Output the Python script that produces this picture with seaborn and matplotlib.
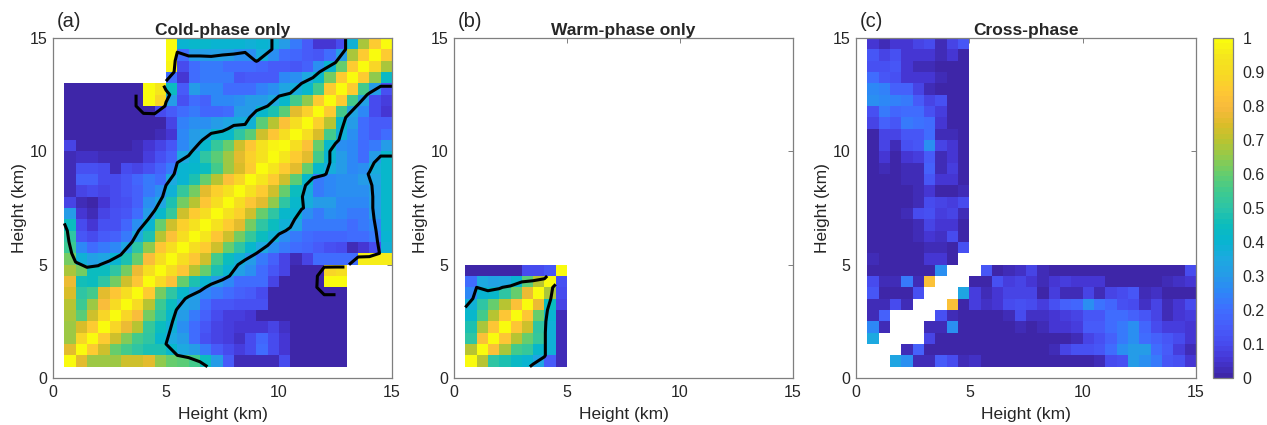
import numpy as np
import seaborn as sns
import matplotlib
matplotlib.use('Agg')
import matplotlib.pyplot as plt
from matplotlib.colors import LinearSegmentedColormap

N = np.nan

# correlation x100, rows from the lowest height up, columns from 0.5 km
cold_rows = [
    [100, 75, 66, 66, 66, 72, 72, 76, 65, 60, 58, 55, 45, 30, 15, 3, 3, 3, 3, 10, 0, 0, 0, 0, 0, N, N, N, N],
    [75, 100, 85, 72, 60, 55, 50, 48, 48, 42, 35, 30, 22, 15, 10, 7, 10, 20, 10, 6, 0, 0, 0, 0, 0, N, N, N, N],
    [66, 88, 100, 85, 72, 64, 55, 50, 42, 35, 30, 20, 12, 8, 7, 4, 10, 18, 10, 5, 0, 0, 0, 0, 0, N, N, N, N],
    [66, 74, 85, 100, 88, 77, 70, 52, 45, 38, 28, 20, 14, 9, 7, 6, 5, 6, 8, 4, 0, 0, 0, 0, 0, N, N, N, N],
    [68, 58, 72, 88, 100, 88, 80, 62, 50, 42, 30, 22, 17, 10, 7, 7, 6, 0, 0, 0, 0, 0, 0, 0, 0, N, N, N, N],
    [70, 54, 66, 80, 90, 100, 90, 70, 54, 45, 34, 30, 20, 14, 14, 12, 12, 12, 0, 0, 0, 0, 0, 0, 0, N, N, N, N],
    [74, 50, 55, 76, 84, 92, 100, 85, 62, 50, 42, 32, 25, 22, 20, 17, 15, 10, 0, 0, 0, 0, 0, 0, 0, N, N, N, N],
    [78, 46, 44, 50, 62, 72, 84, 100, 90, 82, 60, 48, 40, 30, 25, 20, 20, 20, 8, 0, 0, 0, 0, 100, 100, N, N, N, N],
    [68, 62, 45, 45, 50, 62, 78, 92, 100, 92, 84, 70, 60, 48, 40, 32, 28, 20, 14, 8, 1, 0, 0, 88, 92, N, N, N, N],
    [62, 38, 32, 34, 40, 48, 60, 80, 92, 100, 92, 84, 72, 55, 45, 38, 30, 22, 16, 8, 3, 9, 20, 20, 20, 20, 96, 96, 96],
    [54, 25, 20, 22, 25, 33, 50, 65, 84, 92, 100, 92, 85, 72, 60, 50, 42, 35, 28, 22, 20, 18, 15, 12, 10, 3, 6, 10, 38],
    [50, 14, 10, 15, 16, 23, 35, 48, 70, 82, 92, 100, 94, 83, 72, 62, 52, 45, 38, 28, 22, 20, 18, 18, 18, 20, 20, 22, 40],
    [44, 10, 5, 12, 12, 18, 28, 40, 60, 72, 86, 93, 100, 93, 85, 76, 62, 50, 44, 38, 33, 23, 22, 22, 22, 20, 22, 25, 42],
    [30, 5, 2, 8, 12, 13, 20, 30, 42, 52, 72, 85, 92, 100, 93, 87, 72, 60, 50, 42, 40, 27, 23, 27, 25, 22, 22, 30, 42],
    [8, 3, 1, 6, 10, 12, 17, 27, 33, 48, 62, 70, 84, 92, 100, 92, 84, 75, 65, 50, 42, 36, 30, 30, 25, 25, 25, 32, 42],
    [2, 8, 10, 9, 10, 13, 17, 23, 28, 38, 52, 62, 76, 87, 93, 100, 93, 85, 72, 60, 45, 36, 22, 25, 27, 27, 28, 32, 42],
    [2, 17, 17, 10, 10, 14, 18, 22, 20, 35, 40, 47, 60, 70, 82, 88, 100, 95, 85, 72, 58, 42, 22, 25, 28, 28, 30, 33, 42],
    [2, 12, 12, 10, 3, 10, 8, 12, 17, 22, 40, 42, 45, 55, 66, 74, 85, 100, 95, 85, 75, 60, 42, 36, 30, 25, 27, 36, 42],
    [2, 4, 4, 2, 2, 2, 2, 7, 12, 17, 35, 40, 50, 58, 66, 75, 87, 93, 100, 95, 85, 75, 55, 40, 30, 26, 20, 30, 42],
    [8, 0, 0, 0, 0, 0, 2, 6, 8, 14, 25, 32, 42, 52, 60, 72, 84, 93, 98, 100, 92, 82, 60, 42, 28, 25, 20, 22, 30],
    [0, 0, 0, 0, 0, 0, 0, 0, 2, 5, 26, 30, 33, 42, 42, 50, 58, 72, 84, 92, 100, 92, 74, 55, 38, 28, 20, 15, 20],
    [0, 0, 0, 0, 0, 0, 0, 0, 0, 8, 24, 27, 27, 30, 33, 37, 38, 58, 70, 82, 92, 100, 87, 70, 42, 30, 20, 15, 15],
    [0, 0, 0, 0, 0, 0, 0, 0, 10, 15, 20, 22, 18, 18, 20, 30, 30, 42, 48, 58, 75, 87, 100, 85, 55, 33, 25, 10, 5],
    [0, 0, 0, 0, 0, 0, 0, 100, 88, 30, 12, 20, 17, 25, 25, 27, 30, 30, 35, 42, 55, 65, 85, 100, 85, 55, 32, 10, 7],
    [0, 0, 0, 0, 0, 0, 0, 100, 95, 45, 15, 30, 25, 25, 20, 20, 20, 24, 28, 34, 36, 42, 55, 85, 100, 85, 55, 30, 12],
    [N, N, N, N, N, N, N, N, N, 20, 5, 20, 22, 22, 22, 14, 15, 15, 15, 25, 28, 35, 42, 62, 85, 100, 85, 65, 43],
    [N, N, N, N, N, N, N, N, N, 98, 10, 20, 22, 22, 20, 20, 20, 18, 15, 15, 13, 17, 28, 40, 60, 85, 100, 88, 68],
    [N, N, N, N, N, N, N, N, N, 100, 20, 30, 30, 32, 30, 28, 27, 36, 28, 20, 18, 15, 13, 20, 30, 68, 85, 100, 85],
    [N, N, N, N, N, N, N, N, N, 100, 40, 42, 42, 40, 40, 40, 38, 40, 38, 30, 22, 15, 5, 5, 10, 38, 68, 85, 100],
]

warm_rows = [
    [100, 70, 50, 47, 43, 40, 33, 15, 2],
    [70, 100, 82, 68, 56, 52, 42, 38, 2],
    [50, 82, 100, 84, 70, 60, 52, 38, 2],
    [48, 68, 84, 100, 84, 72, 50, 38, 2],
    [42, 55, 70, 84, 100, 84, 60, 40, 2],
    [38, 50, 60, 70, 82, 100, 78, 45, 8],
    [25, 40, 42, 50, 60, 78, 100, 68, 10],
    [20, 35, 32, 33, 40, 58, 70, 100, 12],
    [0, 0, 0, 0, 0, 10, 10, 14, 100],
]

cross_rows = [
    [N, N, 33, 28, 2, 2, 15, 10, 3, 4, 0, 0, 0, 0, 0, 0, 0, 0, 0, 1, 2, 10, 12, 30, 28, 22, 13, 12, 5],
    [N, N, N, 2, 17, 0, 0, 0, 0, 0, 0, 0, 0, 0, 0, 0, 3, 8, 12, 12, 14, 20, 27, 30, 30, 20, 15, 7, 2],
    [35, N, N, N, N, 8, 0, 0, 0, 0, 0, 0, 0, 0, 0, 0, 0, 0, 3, 8, 12, 17, 23, 28, 20, 17, 13, 10, 5],
    [25, 2, N, N, N, 2, 2, 27, 0, 0, 0, 0, 0, 3, 0, 3, 5, 5, 7, 15, 15, 20, 22, 28, 18, 10, 7, 7, 5],
    [2, 17, N, N, N, N, 12, 2, 0, 0, 0, 1, 3, 10, 4, 4, 5, 7, 8, 14, 14, 20, 20, 17, 14, 8, 2, 5, 7],
    [2, 2, 10, 2, N, N, N, 82, 0, 7, 4, 6, 10, 12, 10, 7, 12, 17, 18, 27, 21, 18, 12, 10, 4, 8, 3, 6, 10],
    [14, 1, 1, 1, 12, N, N, N, 33, 7, 2, 6, 8, 9, 9, 1, 7, 3, 3, 8, 3, 8, 10, 14, 3, 4, 0, 0, 1],
    [10, 2, 2, 22, 3, 82, N, N, N, 1, 1, 11, 7, 9, 6, 2, 6, 7, 5, 6, 5, 1, 1, 1, 1, 1, 2, 4, 6],
    [1, 1, 1, 1, 1, 1, 28, N, N, N, 13, 1, 2, 4, 8, 3, 1, 1, 1, 1, 1, 1, 1, 1, 1, 1, 1, 1, 10],
    [2, 0, 0, 0, 0, 6, 6, 1, N, N, N, N, N, N, N, N, N, N, N, N, N, N, N, N, N, N, N, N, N],
    [0, 0, 0, 0, 0, 3, 2, 1, 12, N, N, N, N, N, N, N, N, N, N, N, N, N, N, N, N, N, N, N, N],
    [0, 0, 0, 0, 2, 5, 4, 10, 0, N, N, N, N, N, N, N, N, N, N, N, N, N, N, N, N, N, N, N, N],
    [0, 0, 0, 0, 3, 8, 6, 6, 1, N, N, N, N, N, N, N, N, N, N, N, N, N, N, N, N, N, N, N, N],
    [0, 0, 0, 2, 10, 12, 7, 9, 3, N, N, N, N, N, N, N, N, N, N, N, N, N, N, N, N, N, N, N, N],
    [0, 0, 0, 0, 3, 10, 9, 7, 10, N, N, N, N, N, N, N, N, N, N, N, N, N, N, N, N, N, N, N, N],
    [0, 0, 0, 0, 3, 6, 1, 1, 2, N, N, N, N, N, N, N, N, N, N, N, N, N, N, N, N, N, N, N, N],
    [0, 0, 0, 2, 2, 13, 6, 6, 0, N, N, N, N, N, N, N, N, N, N, N, N, N, N, N, N, N, N, N, N],
    [0, 2, 0, 3, 3, 16, 2, 7, 0, N, N, N, N, N, N, N, N, N, N, N, N, N, N, N, N, N, N, N, N],
    [0, 6, 1, 5, 7, 15, 2, 5, 0, N, N, N, N, N, N, N, N, N, N, N, N, N, N, N, N, N, N, N, N],
    [1, 8, 3, 12, 13, 28, 8, 6, 0, N, N, N, N, N, N, N, N, N, N, N, N, N, N, N, N, N, N, N, N],
    [1, 8, 8, 13, 14, 20, 2, 3, 0, N, N, N, N, N, N, N, N, N, N, N, N, N, N, N, N, N, N, N, N],
    [8, 16, 13, 22, 21, 19, 6, 0, 0, N, N, N, N, N, N, N, N, N, N, N, N, N, N, N, N, N, N, N, N],
    [11, 22, 18, 20, 20, 12, 7, 0, 0, N, N, N, N, N, N, N, N, N, N, N, N, N, N, N, N, N, N, N, N],
    [28, 26, 24, 22, 15, 9, 12, 0, 0, N, N, N, N, N, N, N, N, N, N, N, N, N, N, N, N, N, N, N, N],
    [26, 24, 16, 16, 9, 3, 1, 0, 0, N, N, N, N, N, N, N, N, N, N, N, N, N, N, N, N, N, N, N, N],
    [20, 14, 12, 5, 5, 5, 2, 0, 0, N, N, N, N, N, N, N, N, N, N, N, N, N, N, N, N, N, N, N, N],
    [12, 12, 13, 5, 2, 2, 1, 1, 0, N, N, N, N, N, N, N, N, N, N, N, N, N, N, N, N, N, N, N, N],
    [13, 9, 12, 5, 5, 5, 2, 6, 0, N, N, N, N, N, N, N, N, N, N, N, N, N, N, N, N, N, N, N, N],
    [6, 3, 6, 6, 8, 10, 3, 8, 13, N, N, N, N, N, N, N, N, N, N, N, N, N, N, N, N, N, N, N, N],
]

panel_titles = ['Cold-phase only', 'Warm-phase only', 'Cross-phase']
panel_tags = ['(a)', '(b)', '(c)']
km_ticks = [0, 5, 10, 15]
cbar_ticks = [0, 0.1, 0.2, 0.3, 0.4, 0.5, 0.6, 0.7, 0.8, 0.9, 1]
cbar_labels = ['0', '0.1', '0.2', '0.3', '0.4', '0.5', '0.6', '0.7', '0.8', '0.9', '1']

parula_colors = [
    (0.2422, 0.1504, 0.6603), (0.2706, 0.2147, 0.8364), (0.2813, 0.3006, 0.9414),
    (0.2760, 0.3667, 0.9829), (0.2440, 0.4358, 0.9988), (0.1786, 0.5289, 0.9682),
    (0.1460, 0.6091, 0.9079), (0.1113, 0.6635, 0.8763), (0.0297, 0.7082, 0.8163),
    (0.0433, 0.7411, 0.7394), (0.1717, 0.7670, 0.6554), (0.2470, 0.7918, 0.5567),
    (0.3909, 0.8029, 0.4354), (0.5616, 0.7942, 0.3045), (0.7242, 0.7698, 0.1910),
    (0.8634, 0.7406, 0.1596), (0.9728, 0.7298, 0.2394), (0.9952, 0.7861, 0.1996),
    (0.9676, 0.8545, 0.1380), (0.9597, 0.8976, 0.1152), (0.9763, 0.9831, 0.0538),
]
parula = LinearSegmentedColormap.from_list('parula', parula_colors, N=64)

W, H = 1267, 425
EDGE = '#7f7f7f'
LEVEL = 0.35


def to_grid(rows):
    # the km axis is cut in 0.5 km cells, the first cell (0-0.5 km) stays empty
    grid = np.full((30, 30), np.nan)
    vals = np.array(rows, dtype=float) / 100
    grid[1:1 + vals.shape[0], 1:1 + vals.shape[1]] = vals
    return grid


def px_axes(fig, left, top, right, bottom):
    return fig.add_axes([left / W, 1 - bottom / H, (right - left) / W, (bottom - top) / H])


def draw_panel(fig, box, rows, title, tag, contour=False, extend=False, cbar_ax=None):
    ax = px_axes(fig, *box)
    sns.heatmap(to_grid(rows), ax=ax, cmap=parula, vmin=0, vmax=1,
                cbar=cbar_ax is not None, cbar_ax=cbar_ax,
                xticklabels=False, yticklabels=False)
    if contour:
        # the isoline sits on the cell corners, so it looks half a cell off the colours
        field = np.array(rows, dtype=float) / 100
        if extend:
            field = np.pad(field, ((0, 1), (0, 1)), mode='edge')
        nodes_y = 1 + np.arange(field.shape[0])
        nodes_x = 1 + np.arange(field.shape[1])
        ax.contour(nodes_x, nodes_y, field, levels=[LEVEL], colors='black', linewidths=2.2)
    ax.set_xlim(0, 30)
    ax.set_ylim(0, 30)
    ax.set_xticks([t * 2 for t in km_ticks], labels=km_ticks)
    ax.set_yticks([t * 2 for t in km_ticks], labels=km_ticks, rotation=0)
    ax.tick_params(direction='in', length=3.5, width=0.7, color=EDGE, labelcolor='#262626',
                   top=True, right=True, labelsize=11.5, pad=4)
    ax.tick_params(axis='x', pad=5)
    for side in ax.spines.values():
        side.set_visible(True)
        side.set_color(EDGE)
        side.set_linewidth(0.9)
    ax.set_xlabel('Height (km)', fontsize=12.5, color='#262626', labelpad=5)
    ax.set_ylabel('Height (km)', fontsize=12.5, color='#262626', labelpad=2)
    ax.set_title(title, fontsize=12.5, fontweight='bold', pad=2.5)
    ax.text(0.012, 1.02, tag, transform=ax.transAxes, fontsize=14.5, color='#262626',
            ha='left', va='bottom')
    return ax


def main():
    sns.set_style('white')
    plt.rcParams['font.family'] = ['Liberation Sans', 'DejaVu Sans']
    fig = plt.figure(figsize=(W / 100, H / 100), dpi=100)

    draw_panel(fig, (53, 38, 392, 378), cold_rows, panel_titles[0], panel_tags[0],
               contour=True, extend=True)
    draw_panel(fig, (454, 38, 793, 378), warm_rows, panel_titles[1], panel_tags[1], contour=True)

    cax = px_axes(fig, 1213, 38, 1233, 378)
    ax_c = draw_panel(fig, (856, 38, 1196, 378), cross_rows, panel_titles[2], panel_tags[2],
                      cbar_ax=cax)
    cax.set_yticks(cbar_ticks, labels=cbar_labels)
    cax.tick_params(direction='in', length=3, width=0.7, color=EDGE, labelcolor='#262626',
                    labelsize=11.5, pad=7, right=True, left=False)
    outline = ax_c.collections[0].colorbar.outline
    outline.set_visible(True)
    outline.set_edgecolor(EDGE)
    outline.set_linewidth(0.9)

    plt.savefig('out.png', dpi=100)


if __name__ == '__main__':
    main()
